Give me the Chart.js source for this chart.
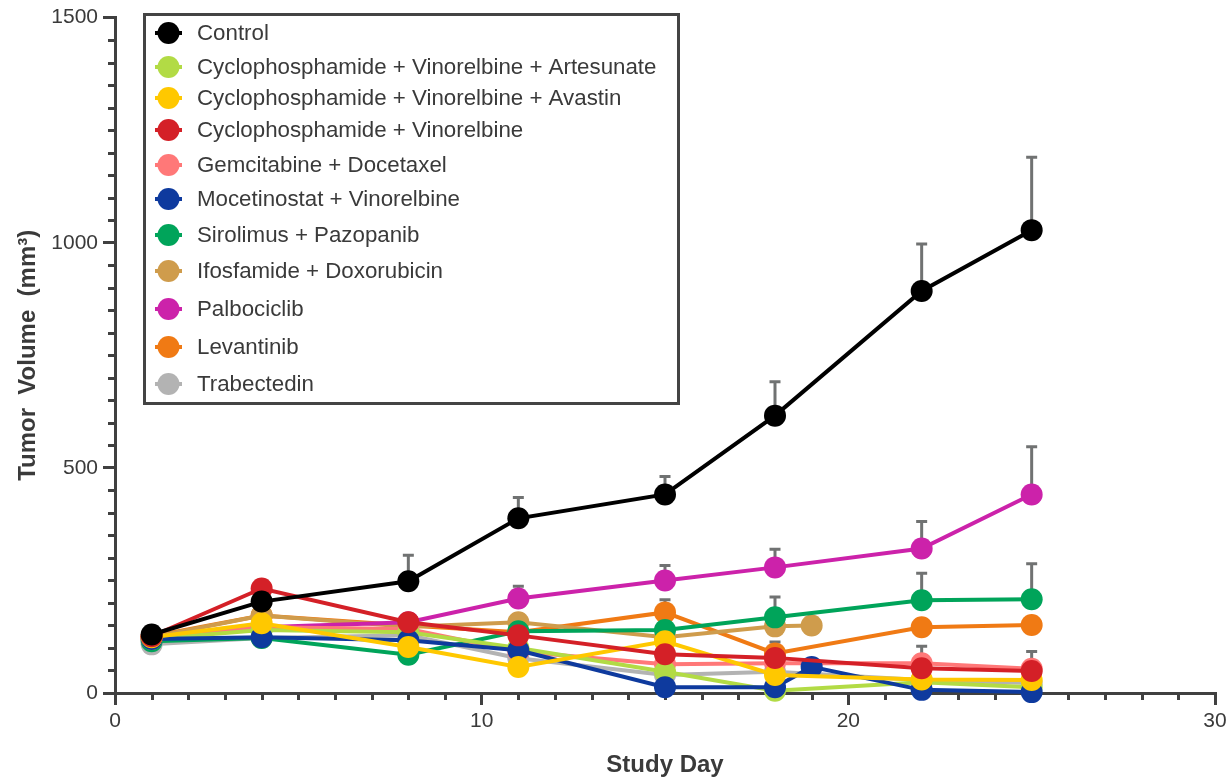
<!DOCTYPE html>
<html>
<head>
<meta charset="utf-8">
<script src="https://cdn.jsdelivr.net/npm/chart.js@4.4.1/dist/chart.umd.min.js"></script>
<style>
  html, body { margin: 0; padding: 0; background: #fff; }
  #wrap { width: 1232px; height: 780px; }
</style>
</head>
<body>
<div id="wrap"><canvas id="tumorChart" width="1232" height="780"></canvas></div>
<script>
// study days
const days = [1, 4, 8, 11, 15, 18, 22, 25];
const daysMocetinostat = [1, 4, 8, 11, 15, 18, 19, 22, 25];
const daysIfosfamide = [1, 4, 8, 11, 15, 18, 19];

// mean tumour volume (mm3)
const control = [130, 203, 248, 388, 441, 616, 893, 1028];
const cycloVinoArtesunate = [120, 140, 135, 100, 47, 5, 24, 13];
const cycloVinoAvastin = [124, 155, 102, 58, 115, 40, 30, 29];
const cycloVino = [126, 232, 157, 128, 86, 78, 55, 49];
const gemDoce = [122, 146, 142, 92, 64, 66, 66, 54];
const mocetinostatVino = [120, 124, 117, 95, 13, 13, 58, 7, 2];
const sirolimusPazo = [115, 122, 85, 137, 140, 168, 206, 208];
const ifosDoxo = [124, 172, 147, 157, 124, 148, 150];
const palbociclib = [124, 146, 157, 210, 250, 279, 321, 441];
const levantinib = [126, 172, 150, 135, 179, 88, 146, 151];
const trabectedin = [108, 122, 128, 77, 40, 47, 29, 22];

// upper error (SEM) where visible
const controlErr = [null, 29, 58, 46, 40, 75, 104, 162];
const palbociclibErr = [null, null, null, 27, 33, 40, 60, 106];
const sirolimusErr = [null, null, null, null, 35, 45, 60, 79];
const levantinibErr = [null, null, null, null, 28, 25, null, null];
const cycloVinoErr = [null, null, null, null, 27, null, null, null];
const gemDoceErr = [null, null, null, null, null, null, 38, 38];

const xTicks = [0, 10, 20, 30];
const yTicks = [0, 500, 1000, 1500];

const axisColor = '#404040';
const textColor = '#3a3a3a';
const fontFamily = '"Liberation Sans", Arial, Helvetica, sans-serif';

function pts(xs, ys) {
    return xs.map((d, i) => ({ x: d, y: ys[i] }));
}

function series(label, xs, ys, color, order, err) {
    return {
        label: label,
        data: pts(xs, ys),
        errorBars: err || null,
        borderColor: color,
        backgroundColor: color,
        pointBackgroundColor: color,
        pointBorderColor: color,
        pointBorderWidth: 0,
        pointRadius: 11,
        pointHoverRadius: 11,
        borderWidth: 4,
        tension: 0,
        fill: false,
        clip: false,
        order: order
    };
}

// minor ticks every day / every 50 mm3
const minorTicks = {
    id: 'minorTicks',
    beforeDatasetsDraw(chart) {
        const { ctx, scales: { x, y }, chartArea } = chart;
        ctx.save();
        ctx.strokeStyle = axisColor;
        ctx.lineWidth = 3;
        ctx.beginPath();
        for (let d = 1; d < 30; d++) {
            if (d % 10 === 0) continue;
            const px = Math.round(x.getPixelForValue(d)) + 0.5;
            ctx.moveTo(px, chartArea.bottom);
            ctx.lineTo(px, chartArea.bottom + 7);
        }
        for (let v = 50; v < 1500; v += 50) {
            if (v % 500 === 0) continue;
            const py = Math.round(y.getPixelForValue(v)) + 0.5;
            ctx.moveTo(chartArea.left, py);
            ctx.lineTo(chartArea.left - 7, py);
        }
        ctx.stroke();
        ctx.restore();
    }
};

// upward error bars, drawn under the markers
const errorBars = {
    id: 'errorBars',
    beforeDatasetsDraw(chart) {
        const { ctx, scales: { x, y } } = chart;
        ctx.save();
        ctx.strokeStyle = '#707272';
        ctx.lineWidth = 3;
        chart.data.datasets.forEach(ds => {
            if (!ds.errorBars) return;
            ds.data.forEach((p, i) => {
                const e = ds.errorBars[i];
                if (e == null) return;
                const px = x.getPixelForValue(p.x);
                const py0 = y.getPixelForValue(p.y);
                const py1 = y.getPixelForValue(p.y + e);
                ctx.beginPath();
                ctx.moveTo(px, py0);
                ctx.lineTo(px, py1);
                ctx.moveTo(px - 5.5, py1);
                ctx.lineTo(px + 5.5, py1);
                ctx.stroke();
            });
        });
        ctx.restore();
    }
};

// boxed legend in the top-left of the plot
const boxLegend = {
    id: 'boxLegend',
    afterDraw(chart) {
        const ctx = chart.ctx;
        const box = { left: 144.5, top: 14.5, right: 678.5, bottom: 403.5 };
        const rows = [33, 67, 98, 130, 165, 199, 235, 271, 309, 347, 384];
        ctx.save();
        ctx.fillStyle = '#fff';
        ctx.fillRect(box.left, box.top, box.right - box.left, box.bottom - box.top);
        ctx.strokeStyle = '#444';
        ctx.lineWidth = 3;
        ctx.strokeRect(box.left, box.top, box.right - box.left, box.bottom - box.top);
        ctx.font = '22.3px ' + fontFamily;
        ctx.textBaseline = 'middle';
        ctx.textAlign = 'left';
        chart.data.datasets.forEach((ds, i) => {
            const cy = rows[i];
            ctx.strokeStyle = ds.borderColor;
            ctx.lineWidth = 4;
            ctx.beginPath();
            ctx.moveTo(155, cy);
            ctx.lineTo(182, cy);
            ctx.stroke();
            ctx.fillStyle = ds.borderColor;
            ctx.beginPath();
            ctx.arc(168.5, cy, 11, 0, Math.PI * 2);
            ctx.fill();
            ctx.fillStyle = textColor;
            ctx.fillText(ds.label, 197, cy + 1);
        });
        ctx.restore();
    }
};

const ctx = document.getElementById('tumorChart').getContext('2d');
const tumorChart = new Chart(ctx, {
    type: 'line',
    data: {
        datasets: [
            series('Control', days, control, '#000000', 0, controlErr),
            series('Cyclophosphamide + Vinorelbine + Artesunate', days, cycloVinoArtesunate, '#b2db45', 4),
            series('Cyclophosphamide + Vinorelbine + Avastin', days, cycloVinoAvastin, '#ffc800', 2),
            series('Cyclophosphamide + Vinorelbine', days, cycloVino, '#d42027', 1, cycloVinoErr),
            series('Gemcitabine + Docetaxel', days, gemDoce, '#ff7878', 5, gemDoceErr),
            series('Mocetinostat + Vinorelbine', daysMocetinostat, mocetinostatVino, '#0e3a9e', 3),
            series('Sirolimus + Pazopanib', days, sirolimusPazo, '#00a45a', 6, sirolimusErr),
            series('Ifosfamide + Doxorubicin', daysIfosfamide, ifosDoxo, '#cf9c4c', 8),
            series('Palbociclib', days, palbociclib, '#cc22aa', 7, palbociclibErr),
            series('Levantinib', days, levantinib, '#f07a14', 9, levantinibErr),
            series('Trabectedin', days, trabectedin, '#b3b3b3', 10)
        ]
    },
    options: {
        responsive: false,
        animation: false,
        events: [],
        layout: { padding: { top: 16, right: 17, left: 0, bottom: 0 } },
        plugins: {
            legend: { display: false },
            tooltip: { enabled: false }
        },
        scales: {
            x: {
                type: 'linear',
                min: 0,
                max: 30,
                afterFit(scale) { scale.height = 87; },
                afterBuildTicks(scale) { scale.ticks = xTicks.map(v => ({ value: v })); },
                ticks: {
                    color: textColor,
                    font: { family: fontFamily, size: 21 },
                    padding: 4,
                    maxRotation: 0,
                    callback: v => String(v)
                },
                grid: { drawOnChartArea: false, drawTicks: true, tickLength: 12, lineWidth: 3, color: axisColor },
                border: { display: true, width: 3, color: axisColor },
                title: {
                    display: true,
                    text: 'Study Day',
                    color: textColor,
                    font: { family: fontFamily, size: 24, weight: 'bold' },
                    padding: { top: 0, bottom: 0 }
                }
            },
            y: {
                min: 0,
                max: 1500,
                afterFit(scale) { scale.width = 115; },
                afterBuildTicks(scale) { scale.ticks = yTicks.map(v => ({ value: v })); },
                ticks: {
                    color: textColor,
                    font: { family: fontFamily, size: 21 },
                    padding: 5,
                    callback: v => String(v)
                },
                grid: { drawOnChartArea: false, drawTicks: true, tickLength: 12, lineWidth: 3, color: axisColor },
                border: { display: true, width: 3, color: axisColor },
                title: {
                    display: true,
                    text: 'Tumor  Volume  (mm³)',
                    color: textColor,
                    font: { family: fontFamily, size: 24, weight: 'bold' },
                    padding: { top: 14, bottom: 0 }
                }
            }
        }
    },
    plugins: [minorTicks, errorBars, boxLegend]
});
</script>
</body>
</html>
